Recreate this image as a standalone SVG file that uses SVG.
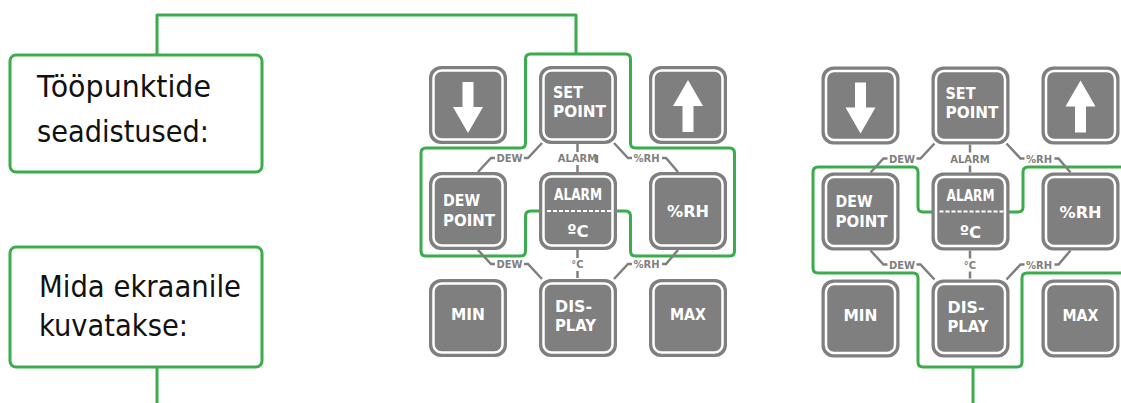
<svg xmlns="http://www.w3.org/2000/svg" width="1121" height="403" viewBox="0 0 1121 403">
<style>
.g{fill:none;stroke:#3aac4c;stroke-width:3;stroke-linejoin:round}
.box{fill:#fff;stroke:#3aac4c;stroke-width:3}
.bt{font-family:"DejaVu Sans",sans-serif;font-size:31px;fill:#111}
.c{fill:none;stroke:#7f7f7f;stroke-width:2.5}
.lb{font-family:"DejaVu Sans",sans-serif;font-weight:bold;font-size:10px;fill:#7f7f7f;text-anchor:middle}
.kt{font-family:"DejaVu Sans",sans-serif;font-weight:bold;font-size:16.5px;fill:#fff}
.m{text-anchor:middle}
.ar{fill:#fff}
</style>
<defs>
<g id="key">
<rect x="0" y="0" width="78" height="78" rx="12" fill="#7f7f7f"/>
<rect x="4.5" y="4.5" width="69" height="69" rx="8" fill="#7f7f7f" stroke="#fff" stroke-width="2.5"/>
</g>
</defs>
<g id="connectors">
<path class="g" d="M157,55 V15 H576 V54"/>
<path class="g" d="M157,367 V403"/>
<path class="g" d="M525.5,100 V59 Q525.5,54 530.5,54 H625.5 Q630.5,54 630.5,59 V143 Q630.5,148 635.5,148 H729.5 Q734.5,148 734.5,153 V251 Q734.5,256 729.5,256 H635.5 Q630.5,256 630.5,251 V216 Q630.5,211 625.5,211 H530.5 Q525.5,211 525.5,216 V251 Q525.5,256 520.5,256 H426 Q421,256 421,251 V153 Q421,148 426,148 H520.5 Q525.5,148 525.5,143 Z"/>
<path class="g" d="M932,212 H923 Q918,212 918,207 V172 Q918,167 913,167 H818 Q813,167 813,172 V268 Q813,273 818,273 H913 Q918,273 918,278 V362 Q918,367 923,367 H1017 Q1022,367 1022,362 V278 Q1022,273 1027,273 H1121"/>
<path class="g" d="M1008,212 H1018 Q1023,212 1023,207 V172 Q1023,167 1028,167 H1121"/>
<path class="g" d="M973,367 V403"/>
<g id="links1">
<path class="c" d="M478,172 L491,158 H495 M524,158 H528 L542,143 M577.5,144 V152 M577.5,165 V172 M614,143 L628,158 H632 M662,158 H666 L678,172"/>
<path class="c" d="M478,250 L491,264 H495 M524,264 H528 L542,279 M577.5,250 V258 M577.5,271 V278 M614,279 L628,264 H632 M662,264 H666 L678,250"/>
<path class="c" d="M597,155 V163" stroke-width="2"/>
<text class="lb" x="509.5" y="162">DEW</text>
<text class="lb" x="577.5" y="162">ALARM</text>
<text class="lb" x="646.5" y="162">%RH</text>
<text class="lb" x="509.5" y="268">DEW</text>
<text class="lb" x="577.5" y="268">°C</text>
<text class="lb" x="646.5" y="268">%RH</text>
</g>
<g id="links2" transform="translate(392.5,0.5)">
<path class="c" d="M478,172 L491,158 H495 M524,158 H528 L542,143 M577.5,144 V152 M577.5,165 V172 M614,143 L628,158 H632 M662,158 H666 L678,172"/>
<path class="c" d="M478,250 L491,264 H495 M524,264 H528 L542,279 M577.5,250 V258 M577.5,271 V278 M614,279 L628,264 H632 M662,264 H666 L678,250"/>
<text class="lb" x="509.5" y="162">DEW</text>
<text class="lb" x="577.5" y="162">ALARM</text>
<text class="lb" x="646.5" y="162">%RH</text>
<text class="lb" x="509.5" y="268">DEW</text>
<text class="lb" x="577.5" y="268">°C</text>
<text class="lb" x="646.5" y="268">%RH</text>
</g>
</g>
<g id="box-setpoints">
<rect class="box" x="10" y="55" width="252" height="117" rx="6"/>
<text class="bt" x="37" y="97" textLength="174" lengthAdjust="spacingAndGlyphs">Tööpunktide</text>
<text class="bt" x="37" y="142" textLength="172" lengthAdjust="spacingAndGlyphs">seadistused:</text>
</g>
<g id="box-display">
<rect class="box" x="10" y="247" width="252" height="120" rx="6"/>
<text class="bt" x="39" y="297" textLength="202" lengthAdjust="spacingAndGlyphs">Mida ekraanile</text>
<text class="bt" x="39" y="336" textLength="149" lengthAdjust="spacingAndGlyphs">kuvatakse:</text>
</g>
<g id="keypad1">
<g id="k1-down"><use href="#key" x="429" y="66"/><rect class="ar" x="462.5" y="82" width="11" height="26"/><polygon class="ar" points="453,107 483,107 468,133"/></g>
<g id="k1-setpoint"><use href="#key" x="539" y="66"/><text class="kt" x="553" y="98" textLength="30" lengthAdjust="spacingAndGlyphs">SET</text><text class="kt" x="553" y="117" textLength="53" lengthAdjust="spacingAndGlyphs">POINT</text></g>
<g id="k1-up"><use href="#key" x="649" y="66"/><rect class="ar" x="682.5" y="105" width="11" height="27"/><polygon class="ar" points="673,106 703,106 688,80"/></g>
<g id="k1-dewpoint"><use href="#key" x="429" y="172"/><text class="kt" x="443" y="206" textLength="37" lengthAdjust="spacingAndGlyphs">DEW</text><text class="kt" x="443" y="226" textLength="52" lengthAdjust="spacingAndGlyphs">POINT</text></g>
<g id="k1-alarm"><use href="#key" x="539" y="172"/><text class="kt m" x="578" y="200" font-size="13" textLength="48" lengthAdjust="spacingAndGlyphs">ALARM</text><line x1="547" y1="211" x2="611" y2="211" stroke="#fff" stroke-width="2" stroke-dasharray="4,2"/><text class="kt m" x="578" y="237" font-size="19">ºC</text></g>
<g id="k1-rh"><use href="#key" x="649" y="172"/><text class="kt m" x="688" y="217" textLength="42" lengthAdjust="spacingAndGlyphs">%RH</text></g>
<g id="k1-min"><use href="#key" x="429" y="279"/><text class="kt m" x="468" y="320" textLength="34" lengthAdjust="spacingAndGlyphs">MIN</text></g>
<g id="k1-display"><use href="#key" x="539" y="279"/><text class="kt" x="555" y="312" textLength="37" lengthAdjust="spacingAndGlyphs">DIS-</text><text class="kt" x="555" y="331" textLength="41" lengthAdjust="spacingAndGlyphs">PLAY</text></g>
<g id="k1-max"><use href="#key" x="649" y="279"/><text class="kt m" x="688" y="320" textLength="36" lengthAdjust="spacingAndGlyphs">MAX</text></g>
</g>
<g id="keypad2" transform="translate(392.5,0.5)">
<g id="k2-down"><use href="#key" x="429" y="66"/><rect class="ar" x="462.5" y="82" width="11" height="26"/><polygon class="ar" points="453,107 483,107 468,133"/></g>
<g id="k2-setpoint"><use href="#key" x="539" y="66"/><text class="kt" x="553" y="98" textLength="30" lengthAdjust="spacingAndGlyphs">SET</text><text class="kt" x="553" y="117" textLength="53" lengthAdjust="spacingAndGlyphs">POINT</text></g>
<g id="k2-up"><use href="#key" x="649" y="66"/><rect class="ar" x="682.5" y="105" width="11" height="27"/><polygon class="ar" points="673,106 703,106 688,80"/></g>
<g id="k2-dewpoint"><use href="#key" x="429" y="172"/><text class="kt" x="443" y="206" textLength="37" lengthAdjust="spacingAndGlyphs">DEW</text><text class="kt" x="443" y="226" textLength="52" lengthAdjust="spacingAndGlyphs">POINT</text></g>
<g id="k2-alarm"><use href="#key" x="539" y="172"/><text class="kt m" x="578" y="200" font-size="13" textLength="48" lengthAdjust="spacingAndGlyphs">ALARM</text><line x1="547" y1="211" x2="611" y2="211" stroke="#fff" stroke-width="2" stroke-dasharray="4,2"/><text class="kt m" x="578" y="237" font-size="19">ºC</text></g>
<g id="k2-rh"><use href="#key" x="649" y="172"/><text class="kt m" x="688" y="217" textLength="42" lengthAdjust="spacingAndGlyphs">%RH</text></g>
<g id="k2-min"><use href="#key" x="429" y="279"/><text class="kt m" x="468" y="320" textLength="34" lengthAdjust="spacingAndGlyphs">MIN</text></g>
<g id="k2-display"><use href="#key" x="539" y="279"/><text class="kt" x="555" y="312" textLength="37" lengthAdjust="spacingAndGlyphs">DIS-</text><text class="kt" x="555" y="331" textLength="41" lengthAdjust="spacingAndGlyphs">PLAY</text></g>
<g id="k2-max"><use href="#key" x="649" y="279"/><text class="kt m" x="688" y="320" textLength="36" lengthAdjust="spacingAndGlyphs">MAX</text></g>
</g>
</svg>
